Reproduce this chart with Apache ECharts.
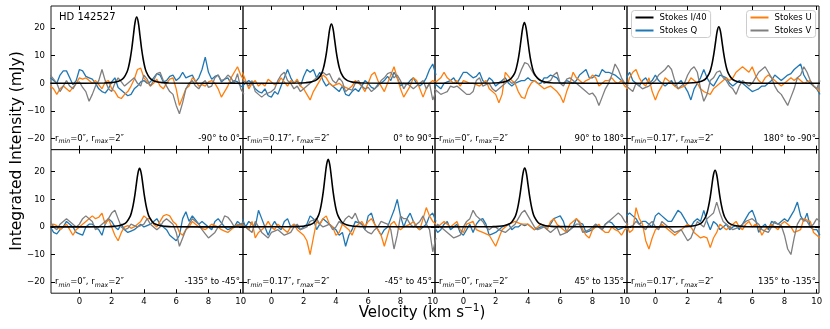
<!DOCTYPE html>
<html>
<head>
<meta charset="utf-8">
<script src="https://cdn.jsdelivr.net/npm/echarts@6/dist/echarts.min.js"></script>
<style>
  html, body { margin: 0; padding: 0; background: #fff; }
  #chart { width: 830px; height: 329px; }
</style>
</head>
<body>
<div id="chart"></div>
<script>
// velocity channels (km/s)
const vel = [-1.8,-1.6,-1.4,-1.2,-1.0,-0.8,-0.6,-0.4,-0.2,0.0,
  0.2,0.4,0.6,0.8,1.0,1.2,1.4,1.6,1.8,2.0,
  2.2,2.4,2.6,2.8,3.0,3.2,3.4,3.6,3.8,4.0,
  4.2,4.4,4.6,4.8,5.0,5.2,5.4,5.6,5.8,6.0,
  6.2,6.4,6.6,6.8,7.0,7.2,7.4,7.6,7.8,8.0,
  8.2,8.4,8.6,8.8,9.0,9.2,9.4,9.6,9.8,10.0,10.2]

const xTicks = [0, 2, 4, 6, 8, 10]
const yTicks = [-20, -10, 0, 10, 20]

// panels: top row left->right, then bottom row
const stokesQ = [
  [2,1,0,3,4.5,4.5,2,-0.5,1,5, 4.5,2.5,2,1.5,0,-2,-3,-3.5,-2,0.5, 2,-1.5,-2.5,-3.5,-4.5,-4,-2,-1,0.5,1, 0,0.5,2,3.5,3,0.5,1,2.5,3,1, 2,4,2,2.5,3,0.5,2,5,9.5,4, 1.5,2.5,3,0.5,1.5,2,0,1,0.5,-1, -1.5],
  [-1,0,1,0,-2,-3,-3.5,-2,-4.5,-5, -3,-4,-1,2,5,2,0,1,-1,2.5, 5,4,5,2,4,1,-1,0,-1,-2, -3,-1,-4,-4.5,-3,-2,-3,-1,1,0, -1.5,-2,-0.5,0,1,2.5,1,4,2,-1, 0,-0.5,1,2,0,-1,0,2,5,7, 3],
  [0,-1,-2,0,0.5,1,2,0,2,4, 4,3,2,2.5,4,1,0,2,1,-1, 0,1,2,0,-1,0,0.5,1,1,2, 1,1,0,0,2,2,3,2.5,2,0, 0,1,0.5,0,1,3,4,5,2,2, 3,2.5,5,4,4,3.5,3,2,1,0, -1],
  [2,4,1,0,-1,1,2,0,1,3, 1,0,-1,0,1,-1,0,1,-1,-3, -6,-2,0,2,5,2,0,-1,1,3, 2.5,2,0,-1,0,1,0,-1,-2,-3, -2.5,-2,-1,-1,0,1,3,2,1,2, 3,3.5,5,6,7,3,1,0,-1,-2, -4],
  [0,-2,-2.5,-1,0,2,1,0,-2,-2.5, -3,0,1,1,0,-1,-3,1,3,2, 0,-1,1,-1,-2,-1.5,-1,0,1,0, 0.5,1,2,3,1,0,-1,-3,-4,-5, -3,3,5.5,2,4,2.5,1,2,1,0, -1,2,3,1.5,0,-1,-0.5,0,2,1, 0],
  [3,0,2,1,0,6,3,0,-3,0, 2,0,-1,2,3,0,1,0,-1,0, 1,4,3,-1,1,3,2,1,0,-1, -3,-2,-7,-3,-1,2,1.5,1,-1,4, 5,1,-1,-3,-1,0,3,6,10,4, 0,3,5,2,0,-1,0,1,4,5, 2],
  [0,-2,-1,1,2,-1,0,1,-2,-3, -1,1,-2,1,2.5,3,1,-3,-2.5,-2, -1,0,0.5,1,-1,0,0,1,0.5,1, 0,-1,-0.5,0,0,0,1,3,3.5,4, 2,-2,-1,0,3,1.5,1,-2,-1.5,-1, 1,0,-1,1,2,1.5,0,-1,-0.5,0, 1],
  [4,5,4,3,1,2,2,1,0,4, 5,4,3,2,2,4,6,5,3,1, 0,2,3,2,6,2,-1,2,1,-1, 0,1,-1,0,0.5,-1,1,3,5,6, 3,-2,0,1,-1,2,1.5,1,2,3, 2,4,6,9,4,2,5,0,-1,-1, -3]
]

const stokesU = [
  [-1,-2,-4,-2,-1,-2,-3,-1.5,0,2, 1.5,2,1,0,1,-0.5,-2,0.5,1,-2, -3,-5,-5.5,-4,-3,-1,1.5,5,5.5,2, 0.5,-1,0,1.5,-1,-2,0,1.5,2,-2, -8,-5,-2,-1,2,1,-1,-0.5,-1,0.5, 1,0,-2,-5,-3,-1,2,4,6,3, 1],
  [4,1,-2,0,1,-1,0,-1,1.5,0.5, -0.5,0,2,0.5,-1,1,0,1.5,-1,-2, -4,-6,-3,-1,1,3,2,0,-1,-0.5, 0,-1,-1.5,-2,-1,1,0,-1,-3,0, 3,4,1,-1,-3,0,3,6,2,-2, -5,-3,-1,2,1,-2,-5,-2,0,1, 0],
  [0,1,2,4,2,1,0,1,-1,1, 0.5,0,0,-0.5,-1,0,1,-2,-3,-4, -7,-4,4,2.5,1,0,-3,-5,-5.5,-2, 0,1,0,-1,-2,-1.5,-1,-2,-3,-4.5, -7,-3,0,4,2,1,0,1,1.5,3, 2,-1,0,1,1,2,0.5,0,1,-1, -2],
  [-2,2,4,5,2,0,-1,2,-3,-6, -3,-1,2,1,0,-1,-2,-1.5,-1,0, 2,1,0,-2,-3,-3.5,-4,-2,-1,0, 1,2,1,2,4,5,6,5,4,6, 3,1,0,2,3,2,1,0,-1,0, 1,2,1,2,1,0,0.5,1,-1,-2, -3],
  [0,1,0.5,-1,0,1,-1,-3,-1,0, 1,2,3,4,3,3.5,5,1,3,0, -3,-5,-2,0,0.5,-0.5,0,1,2,4, 3,3,1,0,2,4,4.5,4,2,1, -2,-3,-1,0,2,1,0,-0.5,-1,0, 1,0.5,0,-1,-1.5,-2,-1,0,1,0.5, 0],
  [1,0,-1,2,-4,-2,-1,0,2,0, -1,1,0,-1,-2,0,1,-1,-2,-3, -5,-10,-4,2,1,3,4,1,0,-3, -2,1,0,-1,-3,0,1,2,0,2, 3,1,-1,-3,-7,-3,1,2,0,-1, 0,0.5,1,2,0,-1,3,7,4,2, 1],
  [0,0,1,2,1,0,1,2,-1,-2, 1,1.5,2,-1,-1.5,-2,-2.5,-3,-5,-7, -4,-1,0,1,1.5,2,1.5,1,1,1, 0,-1,0,1,0.5,-1,2,3,1,0, -1,-2,1,2,3,2,-1,-3,-4,-1, 0,1,-1,-2,-2,0,-1,-1.5,-3,-1, 0],
  [1,-2,-1,7,3,1,-5,-8,-4,-1, 0,1,0,-1,-2,-3,-2,-1,0,1, 0,-2,-3,-4,-3.5,-4,-7.5,-4,-2,1, 0,-1,0,1,2,0,-1,1,2,0, 1,0,-3,-1,0,1,0,-1,1,2, 1,0,-2,-1.5,-1,3,2.5,2,-2,-3, -4]
]

const stokesV = [
  [3,1.5,0,-3,-1,1,-1,-2,0,0.5, -1.5,-3,-6.5,-4,-1,1,5,1,-2,-3, 0,2,0.5,-1,0,1,2,0,-1,3, 1.5,-1,1,3.5,4,1,-1,-3,-4,-8, -11,-7,-2,0,1,-1,-2,0,1,-1.5, -1,2,3,1,1.5,3,2,0,3.5,-2, -4],
  [1,0.5,-1,1,-3,-4,-5,-4,-3.5,-3, -2,1,3,4,1,0,-2,-1,-3,-2, -1,0,1,2,2.5,4,3,3.5,1,0, 2,0.5,-3,-2,-2.5,0,1,-1,-2,-1.5, -3,-2,-1,1,2,3.5,4,2,3,1, -2,0,-1,-2,-1,0,1,-2,0,-6, -3],
  [-2,-3,-4,-3.5,-3,-1,-1.5,-1,-2,-3, -4,-4,-3,1,2,-1,-0.5,0,-2,-3, -2,-1,0,1,0,0.5,2,5,7.5,7, 5,3,2,1,0,0.5,1,3,4,0, -1,1.5,2,1,0,-1,-2,-3,-4,-3.5, -5,-8,-5,-2,0,3,7,5,2,0, -1],
  [-1,-2,-3,0,-1,-2,-1.5,-1,0,1, 3,4,5,6.5,5,1,-2,-1,0,3, 5,6,4,-2,-6.5,-4,1,2,4,4.5, 2,1,-1,-2,-4,-1,1,0,-1,0, 2,4,5,6,4,2,-1,-3,-4,-6, -8,-5,-2,2,3,6,4,1,-1,-2, 1],
  [2,0,-1,1,2,3,2,1,0,1, 3,4,3,2,-1,0,1,2,3,5, 6,3,0,-1,-0.5,1,0.5,0,0.5,1, 3,1,0,-1,0,2,3,2,1,-2, -7,-4,-1,1,3,2,1,-1,-2.5,-4, -3,-2,0,1,4,3.5,2,0,0.5,1, 2],
  [1,0,-1,-2,2,0,-2,-3,-4,-2, -1.5,-1,-2,-3,-2.5,-2,0,1,-1,-0.5, 0,2,2.5,3,1,0,0.5,1,-1,0, 2,1,3,4,3,5,2,1,-1,-2, -2.5,-1,0,2,1.5,1,-1,-8,-3,4, 3,3,1,0,1,2,4,1,-1,-9, -4],
  [-1,1,0,-1,-2,-3,-4,-3.5,-3,0, 2,3,6,4,3,2,0,-1,0,0, -1,-1.5,-2,-1,0,1,3,5,6,4, 2,0,-1,-0.5,0,-1,-2,-1,0,-3, -2.5,-2,-1,0,1,1,-2,-1.5,-1,0, 1,0,-1,1,2,3,4,5,4,2, 1],
  [-1,0,0.5,2,1,0,-1,1,2,0, -1,2,1,0,-1,-2,-1.5,-1,-3,-5, -4,-1,2,1,0,3,4,5,9,5, 2,1,0,-1,-0.5,0,1,2,2.5,3, 2,1,-1,-1.5,-2,0,2,1,0.5,-3, -8,-10,-4,1,3,2.5,2,0,1,3, 2]
]

// Stokes I / 40, [velocity, mJy]
const stokesI = [
  [[-1.8,0],[1.55,0.1],[1.95,0.24],[2.25,0.48],[2.55,1.08],[2.75,2.0],[2.95,4.1],[3.05,6.0],[3.15,8.9],[3.25,12.7],[3.35,17.5],[3.45,22.1],[3.55,24],[3.65,22.1],[3.75,17.5],[3.85,12.7],[3.95,8.9],[4.05,6.0],[4.15,4.1],[4.35,2.0],[4.55,1.08],[4.85,0.48],[5.15,0.24],[5.55,0.1],[10.2,0]],
  [[-1.8,0],[1.72,0.09],[2.12,0.22],[2.42,0.43],[2.72,0.97],[2.92,1.8],[3.12,3.7],[3.22,5.4],[3.32,8.0],[3.42,11.4],[3.52,15.7],[3.62,19.8],[3.72,21.5],[3.82,19.8],[3.92,15.7],[4.02,11.4],[4.12,8.0],[4.22,5.4],[4.32,3.7],[4.52,1.8],[4.72,0.97],[5.02,0.43],[5.32,0.22],[5.72,0.09],[10.2,0]],
  [[-1.8,0],[1.78,0.09],[2.18,0.22],[2.48,0.44],[2.78,1.0],[2.98,1.9],[3.18,3.7],[3.28,5.5],[3.38,8.1],[3.48,11.7],[3.58,16.1],[3.68,20.2],[3.78,22],[3.88,20.2],[3.98,16.1],[4.08,11.7],[4.18,8.1],[4.28,5.5],[4.38,3.7],[4.58,1.9],[4.78,1.0],[5.08,0.44],[5.38,0.22],[5.78,0.09],[10.2,0]],
  [[-1.8,0],[1.93,0.08],[2.33,0.2],[2.63,0.41],[2.93,0.92],[3.13,1.7],[3.33,3.5],[3.43,5.1],[3.53,7.6],[3.63,10.9],[3.73,15.0],[3.83,18.9],[3.93,20.5],[4.03,18.9],[4.13,15.0],[4.23,10.9],[4.33,7.6],[4.43,5.1],[4.53,3.5],[4.73,1.7],[4.93,0.92],[5.23,0.41],[5.53,0.2],[5.93,0.08],[10.2,0]],
  [[-1.8,0],[1.73,0.08],[2.13,0.21],[2.43,0.42],[2.73,0.95],[2.93,1.8],[3.13,3.6],[3.23,5.3],[3.33,7.8],[3.43,11.2],[3.53,15.5],[3.63,19.5],[3.73,21.2],[3.83,19.5],[3.93,15.5],[4.03,11.2],[4.13,7.8],[4.23,5.3],[4.33,3.6],[4.53,1.8],[4.73,0.95],[5.03,0.42],[5.33,0.21],[5.73,0.08],[10.2,0]],
  [[-1.8,0],[1.52,0.1],[1.92,0.25],[2.22,0.49],[2.52,1.1],[2.72,2.1],[2.92,4.2],[3.02,6.1],[3.12,9.1],[3.22,13.0],[3.32,17.9],[3.42,22.5],[3.52,24.5],[3.62,22.5],[3.72,17.9],[3.82,13.0],[3.92,9.1],[4.02,6.1],[4.12,4.2],[4.32,2.1],[4.52,1.1],[4.82,0.49],[5.12,0.25],[5.52,0.1],[10.2,0]],
  [[-1.8,0],[1.8,0.09],[2.2,0.21],[2.5,0.43],[2.8,0.96],[3.0,1.8],[3.2,3.6],[3.3,5.3],[3.4,7.9],[3.5,11.3],[3.6,15.5],[3.7,19.6],[3.8,21.3],[3.9,19.6],[4.0,15.5],[4.1,11.3],[4.2,7.9],[4.3,5.3],[4.4,3.6],[4.6,1.8],[4.8,0.96],[5.1,0.43],[5.4,0.21],[5.8,0.09],[10.2,0]],
  [[-1.8,0],[1.7,0.08],[2.1,0.2],[2.4,0.41],[2.7,0.92],[2.9,1.7],[3.1,3.5],[3.2,5.1],[3.3,7.6],[3.4,10.9],[3.5,15.0],[3.6,18.9],[3.7,20.5],[3.8,18.9],[3.9,15.0],[4.0,10.9],[4.1,7.6],[4.2,5.1],[4.3,3.5],[4.5,1.7],[4.7,0.92],[5.0,0.41],[5.3,0.2],[5.7,0.08],[10.2,0]]
]

const radiusText = [
  'r{s|min}=0″, r{s|max}=2″', 'r{s|min}=0.17″, r{s|max}=2″', 'r{s|min}=0″, r{s|max}=2″', 'r{s|min}=0.17″, r{s|max}=2″',
  'r{s|min}=0″, r{s|max}=2″', 'r{s|min}=0.17″, r{s|max}=2″', 'r{s|min}=0″, r{s|max}=2″', 'r{s|min}=0.17″, r{s|max}=2″'
]
const angleText = ['-90° to 0°', '0° to 90°', '90° to 180°', '180° to -90°',
  '-135° to -45°', '-45° to 45°', '45° to 135°', '135° to -135°']

const FONT = 'DejaVu Sans'
const colors = { I: '#000000', Q: '#1f77b4', U: '#ff7f0e', V: '#7f7f7f' }

const gridLeft = 51
const gridTop = 6
const cellW = 192
const cellH = 143.6

const minus = (v) => (v < 0 ? '\u2212' + Math.abs(v) : String(v))

const grids = []
const xAxes = []
const yAxes = []
const series = []
const graphics = []

for (let p = 0; p < 8; p++) {
  const row = Math.floor(p / 4)
  const col = p % 4
  const left = gridLeft + col * cellW
  const top = gridTop + row * cellH
  grids.push({ left: left, top: top, width: cellW, height: cellH, show: true, borderColor: '#1a1a1a', borderWidth: 1, backgroundColor: 'transparent' })

  const tick = { inside: true, length: 4, lineStyle: { color: '#000', width: 1 } }
  ;['bottom', 'top'].forEach((pos) => {
    xAxes.push({
      gridIndex: p, type: 'value', position: pos, min: -1.76, max: 10.14,
      axisLine: { show: false, onZero: false }, splitLine: { show: false },
      axisTick: Object.assign({ customValues: xTicks }, tick),
      axisLabel: { show: pos === 'bottom' && row === 1, customValues: xTicks, margin: 4, color: '#000', fontSize: 8.5, fontFamily: FONT }
    })
  })
  ;['left', 'right'].forEach((pos) => {
    yAxes.push({
      gridIndex: p, type: 'value', position: pos, min: -24, max: 28,
      axisLine: { show: false, onZero: false }, splitLine: { show: false },
      axisTick: Object.assign({ customValues: yTicks }, tick),
      axisLabel: { show: pos === 'left' && col === 0, customValues: yTicks, margin: 6, color: '#000', fontSize: 8.5, fontFamily: FONT, formatter: minus }
    })
  })

  const line = (name, data, color, width, z) => ({
    name: name, type: 'line', xAxisIndex: 2 * p, yAxisIndex: 2 * p,
    data: data, symbol: 'none', showSymbol: false, color: color, z: z,
    lineStyle: { color: color, width: width }, silent: true
  })
  series.push(line('Stokes Q', vel.map((v, i) => [v, stokesQ[p][i]]), colors.Q, 1.3, 2))
  series.push(line('Stokes U', vel.map((v, i) => [v, stokesU[p][i]]), colors.U, 1.3, 3))
  series.push(line('Stokes V', vel.map((v, i) => [v, stokesV[p][i]]), colors.V, 1.3, 4))
  const iLine = line('Stokes I/40', stokesI[p], colors.I, 1.6, 5)
  iLine.smooth = 0.35
  series.push(iLine)

  // panel annotations
  const ty = top + cellH - 11
  graphics.push({
    type: 'text', x: left + 4, y: ty, silent: true,
    style: {
      text: radiusText[p], fill: '#000', font: '8.5px "' + FONT + '"', align: 'left', verticalAlign: 'middle',
      textAlign: 'left', textVerticalAlign: 'middle', lineHeight: 12,
      rich: { s: { fontSize: 6.2, fontStyle: 'italic', fontFamily: FONT, lineHeight: 6, verticalAlign: 'bottom', fill: '#000' } }
    }
  })
  graphics.push({
    type: 'text', x: left + cellW - 3, y: ty, silent: true,
    style: { text: angleText[p], fill: '#000', font: '8.5px "' + FONT + '"', align: 'right', verticalAlign: 'middle', textAlign: 'right', textVerticalAlign: 'middle' }
  })
}

graphics.push({
  type: 'text', x: 59, y: 17, silent: true,
  style: { text: 'HD 142527', fill: '#000', font: '10px "' + FONT + '"', align: 'left', verticalAlign: 'middle', textAlign: 'left', textVerticalAlign: 'middle' }
})
graphics.push({
  type: 'text', x: 17, y: 151, rotation: Math.PI / 2, silent: true,
  style: { text: 'Integrated Intensity (mJy)', fill: '#000', font: '15.5px "' + FONT + '"', align: 'center', verticalAlign: 'middle', textAlign: 'center', textVerticalAlign: 'middle' }
})
graphics.push({
  type: 'text', x: 422, y: 313, silent: true,
  style: {
    text: 'Velocity (km s{sup|\u22121})', fill: '#000', font: '15px "' + FONT + '"', align: 'center', verticalAlign: 'middle',
    textAlign: 'center', textVerticalAlign: 'middle', lineHeight: 20,
    rich: { sup: { fontSize: 10.5, fontFamily: FONT, lineHeight: 10, verticalAlign: 'top', fill: '#000' } }
  }
})

const legendBase = {
  orient: 'vertical', top: 10.5, icon: 'rect', itemWidth: 18, itemHeight: 2, itemGap: 3,
  padding: [2, 4, 2, 4], selectedMode: false,
  backgroundColor: 'rgba(255,255,255,0.8)', borderColor: '#cccccc', borderWidth: 1, borderRadius: 3,
  textStyle: { fontSize: 8.5, fontFamily: FONT, color: '#000', lineHeight: 10, padding: [0, 0, 0, 1] }
}

const option = {
  animation: false,
  backgroundColor: '#fff',
  grid: grids,
  xAxis: xAxes,
  yAxis: yAxes,
  legend: [
    Object.assign({ left: 631.5, data: ['Stokes I/40', 'Stokes Q'] }, legendBase),
    Object.assign({ left: 746.5, data: ['Stokes U', 'Stokes V'] }, legendBase)
  ],
  series: series,
  graphic: graphics
}

const chart = echarts.init(document.getElementById('chart'), null, { renderer: 'canvas' })
chart.setOption(option)
</script>
</body>
</html>
